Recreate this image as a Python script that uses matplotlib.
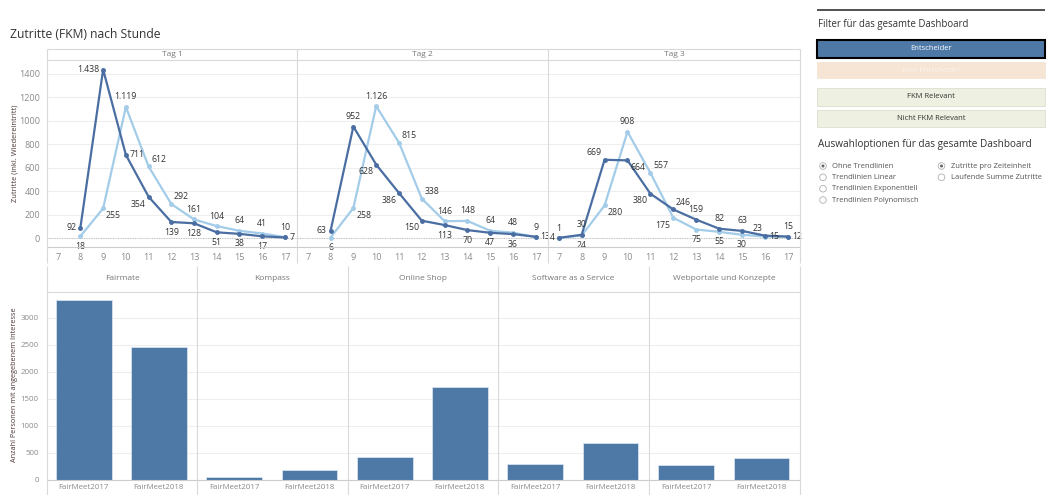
import matplotlib
matplotlib.use('Agg')
import matplotlib.pyplot as plt
from matplotlib.patches import Rectangle, Circle

W, H = 1051, 495

hours = list(range(7, 18))
days = ['Tag 1', 'Tag 2', 'Tag 3']
# None = no value for that hour
dark_tag1 = [None, 92, 1438, 711, 354, 139, 128, 51, 38, 17, 7]
light_tag1 = [None, 18, 255, 1119, 612, 292, 161, 104, 64, 41, 10]
dark_tag2 = [None, 63, 952, 628, 386, 150, 113, 70, 47, 36, 13]
light_tag2 = [None, 6, 258, 1126, 815, 338, 146, 148, 64, 48, 9]
dark_tag3 = [4, 30, 669, 664, 380, 246, 159, 82, 63, 23, 15]
light_tag3 = [1, 24, 280, 908, 557, 175, 75, 55, 30, 15, 12]

products = ['Fairmate', 'Kompass', 'Online Shop', 'Software as a Service', 'Webportale und Konzepte']
events = ['FairMeet2017', 'FairMeet2018']
interest_2017 = [3326, 60, 430, 296, 278]
interest_2018 = [2463, 190, 1722, 690, 400]

# label placement per point (a=above, b=below, l=left, r=right)
dark_pos = [
    [None, 'l', 'l', 'r', 'bl', 'b', 'b', 'b', 'b', 'b', 'r'],
    [None, 'l', 'a', 'bl', 'bl', 'bl', 'b', 'b', 'b', 'b', 'r'],
    ['l', 'a', 'al', 'br', 'bl', 'ar', 'a', 'a', 'a', 'al', 'a'],
]
light_pos = [
    [None, 'b', 'br', 'a', 'ar', 'ar', 'a', 'a', 'a', 'a', 'a'],
    [None, 'b', 'br', 'a', 'ar', 'ar', 'a', 'a', 'a', 'a', 'a'],
    ['a', 'b', 'br', 'a', 'ar', 'bl', 'b', 'b', 'b', 'r', 'r'],
]

DARK = '#4a6ea2'
LIGHT = '#a3cce9'
BAR = '#4e79a7'
GRID = '#eeeeee'
FRAME = '#d9d9d9'
TICK = '#8a8a8a'

plt.rcParams['font.family'] = ['Open Sans', 'DejaVu Sans']

fig = plt.figure(figsize=(W / 100, H / 100), dpi=100)
fig.patch.set_facecolor('white')


def px_axes(x0, y0, x1, y1):
    return fig.add_axes([x0 / W, 1 - y1 / H, (x1 - x0) / W, (y1 - y0) / H])


def fmt(v):
    return f'{v:,}'.replace(',', '.')


offsets = {'a': (0, 4, 'center', 'bottom'), 'b': (0, -4, 'center', 'top'),
           'l': (-3, 0, 'right', 'center'), 'r': (3, 0, 'left', 'center'),
           'al': (-2, 2, 'right', 'bottom'), 'ar': (2, 2, 'left', 'bottom'),
           'bl': (-2, -2, 'right', 'top'), 'br': (2, -2, 'left', 'top')}

# ---- top chart: Zutritte nach Stunde
top_x = [47, 297, 548, 800]
series = [(dark_tag1, light_tag1), (dark_tag2, light_tag2), (dark_tag3, light_tag3)]
for i, day in enumerate(days):
    ax = px_axes(top_x[i], 60, top_x[i + 1], 247)
    ax.set_xlim(6.53, 17.53)
    ax.set_ylim(-74, 1519)
    for s in ax.spines.values():
        s.set_visible(False)
    ax.set_yticks(range(0, 1401, 200))
    ax.yaxis.grid(True, color=GRID, lw=0.8)
    ax.set_axisbelow(True)
    ax.axhline(0, color='#bbbbbb', lw=0.7, ls=(0, (1, 1.5)))
    ax.tick_params(length=0, labelsize=6.5, labelcolor=TICK)
    ax.set_xticks(hours)
    ax.tick_params(axis='x', pad=4)
    ax.tick_params(axis='y', pad=5)
    if i > 0:
        ax.set_yticklabels([])
    dark, light = series[i]
    for vals, col, pos in [(light, LIGHT, light_pos[i]), (dark, DARK, dark_pos[i])]:
        xs = [h for h, v in zip(hours, vals) if v is not None]
        ys = [v for v in vals if v is not None]
        ax.plot(xs, ys, color=col, lw=1.6, marker='o', ms=2.5, clip_on=False, zorder=3)
        for h, v, p in zip(hours, vals, pos):
            if v is None:
                continue
            dx, dy, ha, va = offsets[p]
            ax.annotate(fmt(v), (h, v), xytext=(dx, dy), textcoords='offset points',
                        ha=ha, va=va, fontsize=6.3, color='#333333', zorder=4,
                        annotation_clip=False)

# ---- bottom chart: Interesse nach Produkt
bot_x = [47, 197, 348, 498, 649, 800]
for i, prod in enumerate(products):
    ax = px_axes(bot_x[i], 292, bot_x[i + 1], 480)
    ax.set_xlim(-0.49, 1.51)
    ax.set_ylim(0, 3480)
    for s in ax.spines.values():
        s.set_visible(False)
    ax.bar(range(len(events)), [interest_2017[i], interest_2018[i]], width=0.74,
           color=BAR, edgecolor='#dfe8f2', lw=0.5, zorder=3)
    ax.set_yticks(range(0, 3001, 500))
    ax.yaxis.grid(True, color=GRID, lw=0.8)
    ax.set_axisbelow(True)
    ax.set_xticks(range(len(events)))
    ax.set_xticklabels(events)
    ax.tick_params(length=0, labelsize=5.7, labelcolor=TICK)
    ax.tick_params(axis='x', pad=3)
    ax.tick_params(axis='y', pad=6)
    if i > 0:
        ax.set_yticklabels([])

# ---- overlay in pixel coordinates for frames, headers and the filter panel
ov = fig.add_axes([0, 0, 1, 1])
ov.set_xlim(0, W)
ov.set_ylim(H, 0)
ov.axis('off')
ov.patch.set_alpha(0)


def line(x0, y0, x1, y1, color=FRAME, lw=0.8):
    ov.plot([x0, x1], [y0, y1], color=color, lw=lw, solid_capstyle='butt')


ov.text(10, 35, 'Zutritte (FKM) nach Stunde', fontsize=8.7, color='#333333', va='center')
ov.text(15, 153, 'Zutritte (inkl. Wiedereintritt)', fontsize=5.4, color='#4a3535',
        rotation=90, ha='center', va='center')
ov.text(15, 385, 'Anzahl Personen mit angegebenem Interesse', fontsize=5.2,
        color='#4a3535', rotation=90, ha='center', va='center')

for i, day in enumerate(days):
    ov.text((top_x[i] + top_x[i + 1]) / 2, 54.5, day, fontsize=6, color='#777777',
            ha='center', va='center')
line(47, 48.5, 800, 48.5)
line(47, 60, 800, 60)
line(47, 247, 800, 247, color='#cccccc')
for x in top_x:
    line(x, 48.5, x, 263)

for i, prod in enumerate(products):
    ov.text((bot_x[i] + bot_x[i + 1]) / 2, 279, prod, fontsize=6, color='#777777',
            ha='center', va='center')
line(47, 292, 800, 292)
line(47, 480, 800, 480, color='#cccccc')
for x in bot_x:
    line(x, 266, x, 495)

# filter panel on the right
line(817, 10, 1045, 10, color='#333333', lw=1.2)
ov.text(818, 24, 'Filter für das gesamte Dashboard', fontsize=6.9, color='#333333', va='center')

buttons = [('Entscheider', 40, 58, '#4e79a7', 'black', 'white'),
           ('Kein Entscheider', 62, 78, '#f6e4d4', '#f6e4d4', '#fbf4ee'),
           ('FKM Relevant', 88, 106, '#eef0e1', '#dcdfcd', '#333333'),
           ('Nicht FKM Relevant', 110, 127, '#eef0e1', '#dcdfcd', '#333333')]
for label, y0, y1, fc, ec, tc in buttons:
    lw = 1.5 if ec == 'black' else 0.6
    ov.add_patch(Rectangle((817, y0), 228, y1 - y0, facecolor=fc, edgecolor=ec, lw=lw))
    ov.text(931, (y0 + y1) / 2, label, fontsize=5.5, color=tc, ha='center', va='center')

ov.text(818, 145, 'Auswahloptionen für das gesamte Dashboard', fontsize=7.2, color='#333333',
        va='center')

radio_left = ['Ohne Trendlinien', 'Trendlinien Linear', 'Trendlinien Exponentiell',
              'Trendlinien Polynomisch']
radio_right = ['Zutritte pro Zeiteinheit', 'Laufende Summe Zutritte']
rows = [166, 177.3, 188.7, 200]
for col_x, labels in [(823, radio_left), (941.5, radio_right)]:
    for j, label in enumerate(labels):
        y = rows[j]
        ov.add_patch(Circle((col_x, y), 3.3, facecolor='white', edgecolor='#b0b0b0', lw=0.6))
        if j == 0:
            ov.add_patch(Circle((col_x, y), 1.5, facecolor='#666666', edgecolor='none'))
        ov.text(col_x + 9.5, y, label, fontsize=5.5, color='#555555', va='center')

fig.savefig('out.png', dpi=100)
